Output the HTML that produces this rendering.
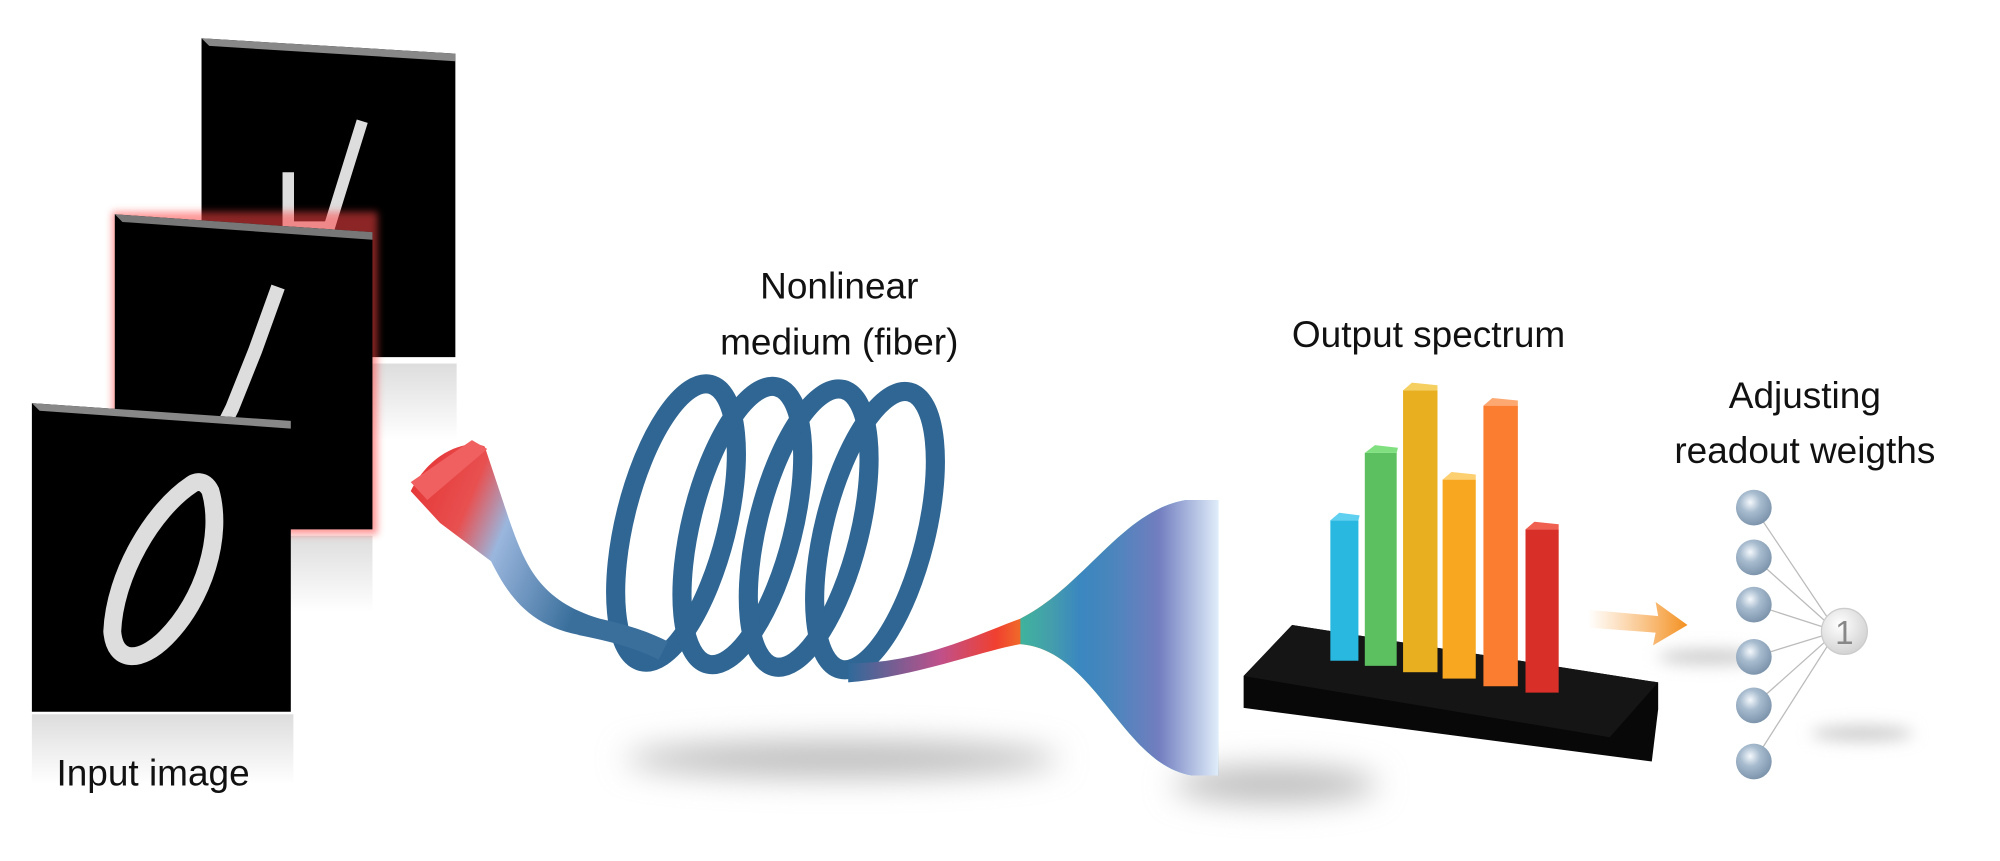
<!DOCTYPE html>
<html><head><meta charset="utf-8"><style>
html,body{margin:0;padding:0;background:#fff;}
svg{display:block}
text{font-family:"Liberation Sans",sans-serif;fill:#111}
</style></head><body>
<svg width="2000" height="861" viewBox="0 0 1568 675" xmlns="http://www.w3.org/2000/svg">
<defs>
<filter id="b6" x="-50%" y="-300%" width="200%" height="700%"><feGaussianBlur stdDeviation="6"/></filter>
<filter id="b12" x="-50%" y="-300%" width="200%" height="700%"><feGaussianBlur stdDeviation="12"/></filter>
<filter id="b3" x="-20%" y="-20%" width="140%" height="140%"><feGaussianBlur stdDeviation="3"/></filter>
<linearGradient id="refl" x1="0" y1="0" x2="0" y2="1"><stop offset="0" stop-color="#ddd"/><stop offset="1" stop-color="#fff"/></linearGradient>
<linearGradient id="inTail" x1="0" y1="0" x2="1" y2="0.4"><stop offset="0" stop-color="#e53030"/><stop offset="0.35" stop-color="#e85050"/><stop offset="0.55" stop-color="#9ab6dd"/><stop offset="1" stop-color="#3a6f9c"/></linearGradient>
<linearGradient id="outTail" x1="0" y1="0" x2="1" y2="0"><stop offset="0" stop-color="#2f6a9a"/><stop offset="0.25" stop-color="#c0508a"/><stop offset="0.4" stop-color="#f04030"/><stop offset="0.55" stop-color="#f0a020"/><stop offset="0.7" stop-color="#40d050"/><stop offset="0.85" stop-color="#20c8c0"/><stop offset="1" stop-color="#2a80d8"/></linearGradient>
<linearGradient id="fan" x1="0" y1="0" x2="1" y2="0"><stop offset="0" stop-color="#20c0b0"/><stop offset="0.3" stop-color="#2a7ed8"/><stop offset="0.7" stop-color="#8070c0"/><stop offset="1" stop-color="#fff"/></linearGradient>
<linearGradient id="arr" x1="0" y1="0" x2="1" y2="0"><stop offset="0" stop-color="#f8a040" stop-opacity="0"/><stop offset="1" stop-color="#f39020"/></linearGradient>
<radialGradient id="ball" cx="0.4" cy="0.35" r="0.7"><stop offset="0" stop-color="#f4f8fc"/><stop offset="0.4" stop-color="#a8bccf"/><stop offset="1" stop-color="#7890a8"/></radialGradient>
<radialGradient id="ball2" cx="0.4" cy="0.35" r="0.7"><stop offset="0" stop-color="#fff"/><stop offset="1" stop-color="#d0d0d0"/></radialGradient>
</defs>

<!-- shadows -->
<ellipse cx="660" cy="595" rx="170" ry="14" fill="#bbb" filter="url(#b12)"/>
<ellipse cx="1000" cy="615" rx="80" ry="14" fill="#bbb" filter="url(#b12)"/>
<ellipse cx="1340" cy="515" rx="40" ry="6" fill="#ccc" filter="url(#b6)"/>
<ellipse cx="1460" cy="575" rx="40" ry="6" fill="#ccc" filter="url(#b6)"/>

<!-- image stack -->
<rect x="158" y="285" width="200" height="60" fill="url(#refl)"/>
<polygon points="158,30 357,42 357,280 158,280" fill="#000"/>
<polygon points="158,30 357,42 357,48 164,36" fill="#888"/>
<polyline points="226,135 226,178 256,178" fill="none" stroke="#ddd" stroke-width="9"/>
<polyline points="284,95 270,140 256,185" fill="none" stroke="#ddd" stroke-width="9"/>
<rect x="92" y="420" width="200" height="60" fill="url(#refl)"/>
<rect x="88" y="166" width="208" height="253" fill="#f44" opacity="0.55" filter="url(#b3)"/>
<polygon points="90,168 292,182 292,415 90,415" fill="#000"/>
<polygon points="90,168 292,182 292,188 96,174" fill="#777"/>
<polyline points="218,225 200,275 182,320 172,340" fill="none" stroke="#ddd" stroke-width="11"/>
<rect x="25" y="560" width="205" height="55" fill="url(#refl)"/>
<polygon points="25,316 228,330 228,558 25,558" fill="#000"/>
<polygon points="25,316 228,330 228,336 31,322" fill="#888"/>
<path d="M150,380 C120,400 90,450 88,495 C90,520 110,520 130,500 C160,470 175,420 165,385 C160,375 152,378 150,380 Z" fill="none" stroke="#ddd" stroke-width="14"/>
<text x="120" y="616" font-size="29" text-anchor="middle">Input image</text>

<!-- fiber input -->
<path d="M322,385 C340,350 370,345 380,350 L395,395 C410,440 420,470 470,485 L480,500 C420,500 400,470 385,440 L345,410 Z" fill="url(#inTail)"/>
<polygon points="322,378 370,345 382,352 335,392" fill="#f06060"/>
<!-- coil -->
<g fill="none" stroke="#2f6693" stroke-width="15">
<ellipse cx="530" cy="410" rx="40" ry="112" transform="rotate(14 530 410)"/>
<ellipse cx="582" cy="412" rx="40" ry="112" transform="rotate(14 582 412)"/>
<ellipse cx="634" cy="414" rx="40" ry="112" transform="rotate(14 634 414)"/>
<ellipse cx="686" cy="416" rx="40" ry="112" transform="rotate(14 686 416)"/>
</g>
<path d="M455,490 C480,495 500,500 520,510" stroke="#3a6f9c" stroke-width="16" fill="none"/>
<!-- output tail + fan -->
<path d="M665,520 C720,520 760,500 800,485 C850,460 880,400 930,392 L955,392 L955,608 L935,608 C880,600 860,510 800,505 C770,510 720,530 665,535 Z" fill="url(#outTail)"/>
<path d="M800,485 C850,460 880,400 930,392 L955,392 L955,608 L935,608 C880,600 860,510 800,505 Z" fill="url(#fan)" opacity="0.85"/>
<text x="658" y="234" font-size="29" text-anchor="middle">Nonlinear</text>
<text x="658" y="278" font-size="29" text-anchor="middle">medium (fiber)</text>

<!-- output spectrum -->
<text x="1120" y="272" font-size="29" text-anchor="middle">Output spectrum</text>
<polygon points="975,530 1013,490 1300,535 1300,556 1295,597 975,555" fill="#080808"/>
<polygon points="1013,490 1300,535 1262,578 975,530" fill="#151515"/>
<g>
<rect x="1043" y="408" width="22" height="110" fill="#28b8e0"/><polygon points="1043,408 1050,402 1066,404 1065,408" fill="#60d0f0"/>
<rect x="1070" y="355" width="25" height="167" fill="#5cc060"/><polygon points="1070,355 1078,349 1096,351 1095,355" fill="#80e080"/>
<rect x="1100" y="306" width="27" height="221" fill="#e8b020"/><polygon points="1100,306 1107,300 1127,302 1127,306" fill="#f5d060"/>
<rect x="1131" y="376" width="26" height="156" fill="#f8a820"/><polygon points="1131,376 1138,370 1157,372 1157,376" fill="#fccf70"/>
<rect x="1163" y="318" width="27" height="220" fill="#fa7d30"/><polygon points="1163,318 1170,312 1190,314 1190,318" fill="#fca870"/>
<rect x="1196" y="415" width="26" height="128" fill="#d83028"/><polygon points="1196,415 1203,409 1222,411 1222,415" fill="#f06050"/>
</g>
<!-- arrow -->
<polygon points="1245,478 1300,483 1298,472 1323,490 1296,506 1298,496 1245,492" fill="url(#arr)"/>

<!-- network -->
<text x="1415" y="320" font-size="29" text-anchor="middle">Adjusting</text>
<text x="1415" y="363" font-size="29" text-anchor="middle">readout weigths</text>
<g stroke="#bbb" stroke-width="1">
<line x1="1375" y1="398" x2="1440" y2="495"/><line x1="1375" y1="437" x2="1440" y2="495"/><line x1="1375" y1="474" x2="1440" y2="495"/>
<line x1="1375" y1="515" x2="1440" y2="495"/><line x1="1375" y1="553" x2="1440" y2="495"/><line x1="1375" y1="597" x2="1440" y2="495"/>
</g>
<g fill="url(#ball)">
<circle cx="1375" cy="398" r="14"/><circle cx="1375" cy="437" r="14"/><circle cx="1375" cy="474" r="14"/>
<circle cx="1375" cy="515" r="14"/><circle cx="1375" cy="553" r="14"/><circle cx="1375" cy="597" r="14"/>
</g>
<circle cx="1446" cy="495" r="18" fill="url(#ball2)" stroke="#ccc"/>
<text x="1446" y="505" font-size="26" text-anchor="middle" style="fill:#888">1</text>
</svg>
</body></html>
